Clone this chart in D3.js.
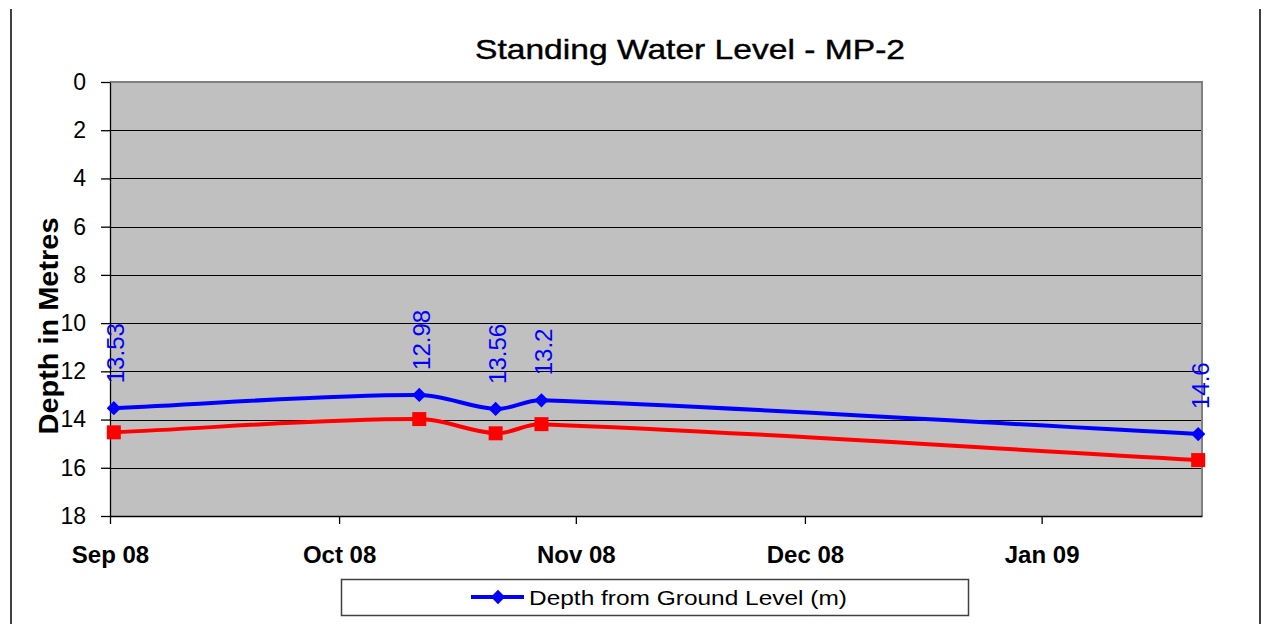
<!DOCTYPE html>
<html>
<head>
<meta charset="utf-8">
<script src="https://cdn.jsdelivr.net/npm/d3@7"></script>
<style>
    body { margin: 0; background: #fff; }
    svg { display: block; font-family: "Liberation Sans", Arial, sans-serif; }
</style>
</head>
<body>
<script>
const chartTitle = "Standing Water Level - MP-2";
const yLabel = "Depth in Metres";
const seriesName = "Depth from Ground Level (m)";
const sampleDates = ["2008-09-01", "2008-10-11", "2008-10-21", "2008-10-27", "2009-01-21"];
const depthFromGround = [13.53, 12.98, 13.56, 13.2, 14.6];
const secondDepth = [14.53, 13.98, 14.57, 14.19, 15.68];
const monthTicks = ["2008-09-01", "2008-10-01", "2008-11-01", "2008-12-01", "2009-01-01"];
const xDomain = ["2008-09-01", "2009-01-22"];
const yTicks = [0, 2, 4, 6, 8, 10, 12, 14, 16, 18];

const margin = { top: 82, right: 67, bottom: 108, left: 110 };
const width = 1269 - margin.left - margin.right;
const height = 624 - margin.top - margin.bottom;

// spreadsheet-style smoothing: bezier handles scaled by neighbouring segment lengths
function smoothPath(pts) {
    const p = d3.path();
    const dist = (a, b) => Math.hypot(b[0] - a[0], b[1] - a[1]);
    p.moveTo(pts[0][0], pts[0][1]);
    for (let i = 0; i < pts.length - 1; i++) {
        const p0 = pts[i - 1] || pts[i], p1 = pts[i], p2 = pts[i + 1], p3 = pts[i + 2] || pts[i + 1];
        const d01 = dist(p0, p1), d12 = dist(p1, p2), d23 = dist(p2, p3);
        const f1 = d12 / (d01 + d12) / 3;
        const f2 = d12 / (d12 + d23) / 3;
        p.bezierCurveTo(
            p1[0] + (p2[0] - p0[0]) * f1, p1[1] + (p2[1] - p0[1]) * f1,
            p2[0] - (p3[0] - p1[0]) * f2, p2[1] - (p3[1] - p1[1]) * f2,
            p2[0], p2[1]);
    }
    return p.toString();
}

function waterLevelChart() {
    const parse = d3.timeParse("%Y-%m-%d");
    // points sit in the middle of their day slot
    const dates = sampleDates.map(s => d3.timeHour.offset(parse(s), 12));
    const blue = dates.map((d, i) => ({ date: d, value: depthFromGround[i] }));
    const red = dates.map((d, i) => ({ date: d, value: secondDepth[i] }));

    const root = d3.select("body").append("svg")
        .attr("width", 1269)
        .attr("height", 624);

    // outer frame (sides only visible)
    root.append("line").attr("x1", 11).attr("x2", 11).attr("y1", 9).attr("y2", 624)
        .attr("stroke", "#000").attr("stroke-width", 1.5);
    root.append("line").attr("x1", 1260).attr("x2", 1260).attr("y1", 9).attr("y2", 624)
        .attr("stroke", "#000").attr("stroke-width", 1.5);

    root.append("text")
        .attr("x", 690)
        .attr("y", 59)
        .attr("text-anchor", "middle")
        .attr("textLength", 430)
        .attr("lengthAdjust", "spacingAndGlyphs")
        .style("font-size", "28px")
        .style("stroke", "#000")
        .style("stroke-width", 0.4)
        .text(chartTitle);

    root.append("text")
        .attr("transform", "translate(58,326) rotate(-90)")
        .attr("text-anchor", "middle")
        .attr("textLength", 217)
        .attr("lengthAdjust", "spacingAndGlyphs")
        .style("font-size", "27px")
        .style("font-weight", "bold")
        .text(yLabel);

    const svg = root.append("g")
        .attr("transform", "translate(" + margin.left + "," + margin.top + ")");

    const xScale = d3.scaleTime()
        .domain(xDomain.map(parse))
        .range([0, width]);
    const yScale = d3.scaleLinear()
        .domain([0, 18])
        .range([0, height]);

    svg.append("rect")
        .attr("width", width)
        .attr("height", height)
        .attr("fill", "#c0c0c0");

    svg.append("g")
        .selectAll("line")
        .data(yTicks)
        .enter().append("line")
        .attr("x1", 0)
        .attr("x2", width)
        .attr("y1", d => Math.round(yScale(d)) + 0.5)
        .attr("y2", d => Math.round(yScale(d)) + 0.5)
        .attr("stroke", "#000")
        .attr("stroke-width", 1);

    // plot area border, top and right
    svg.append("path")
        .attr("d", "M0,0H" + width + "V" + height)
        .attr("fill", "none")
        .attr("stroke", "#808080")
        .attr("stroke-width", 2);

    const yAxis = d3.axisLeft(yScale)
        .tickValues(yTicks)
        .tickSize(9)
        .tickSizeOuter(0)
        .tickPadding(15);
    svg.append("g")
        .attr("id", "y-axis")
        .call(yAxis)
        .call(g => g.selectAll("text")
            .style("font-size", "23px")
            .attr("fill", "#000")
            .attr("font-family", null))
        .call(g => g.selectAll("line, path").attr("stroke", "#000").attr("stroke-width", 1.3));

    const xAxis = d3.axisBottom(xScale)
        .tickValues(monthTicks.map(parse))
        .tickFormat(d3.timeFormat("%b %y"))
        .tickSize(8)
        .tickSizeOuter(0)
        .tickPadding(22);
    svg.append("g")
        .attr("id", "x-axis")
        .attr("transform", "translate(0," + height + ")")
        .call(xAxis)
        .call(g => g.selectAll("text")
            .style("font-size", "24px")
            .style("font-weight", "bold")
            .attr("fill", "#000")
            .attr("font-family", null))
        .call(g => g.selectAll("line, path").attr("stroke", "#000").attr("stroke-width", 1.3));

    const toPts = series => series.map(d => [xScale(d.date), yScale(d.value)]);

    svg.append("path")
        .attr("d", smoothPath(toPts(red)))
        .attr("fill", "none")
        .attr("stroke", "#ff0000")
        .attr("stroke-width", 4);

    svg.append("path")
        .attr("d", smoothPath(toPts(blue)))
        .attr("fill", "none")
        .attr("stroke", "#0000ff")
        .attr("stroke-width", 4);

    svg.selectAll(".sq")
        .data(red)
        .enter().append("rect")
        .attr("class", "sq")
        .attr("x", d => xScale(d.date) - 7)
        .attr("y", d => yScale(d.value) - 7)
        .attr("width", 14)
        .attr("height", 14)
        .attr("fill", "#ff0000");

    const diamond = d3.symbol().type(d3.symbolDiamond2).size(130);
    svg.selectAll(".dm")
        .data(blue)
        .enter().append("path")
        .attr("class", "dm")
        .attr("d", diamond)
        .attr("transform", d => "translate(" + xScale(d.date) + "," + yScale(d.value) + ")")
        .attr("fill", "#0000ff");

    svg.selectAll(".lbl")
        .data(blue)
        .enter().append("text")
        .attr("class", "lbl")
        .attr("transform", d => "translate(" + (xScale(d.date) + 2) + "," + (yScale(d.value) - 25) + ") rotate(-90)")
        .attr("dy", "0.35em")
        .attr("fill", "#0000ff")
        .style("font-size", "24px")
        .text(d => d.value);

    // legend
    const legend = root.append("g").attr("id", "legend");
    legend.append("rect")
        .attr("x", 341.5)
        .attr("y", 579.5)
        .attr("width", 627)
        .attr("height", 36)
        .attr("fill", "#fff")
        .attr("stroke", "#404040")
        .attr("stroke-width", 1.5);
    legend.append("line")
        .attr("x1", 471)
        .attr("x2", 524)
        .attr("y1", 597)
        .attr("y2", 597)
        .attr("stroke", "#0000ff")
        .attr("stroke-width", 4);
    legend.append("path")
        .attr("d", diamond)
        .attr("transform", "translate(498,597)")
        .attr("fill", "#0000ff");
    legend.append("text")
        .attr("x", 529)
        .attr("y", 605)
        .attr("textLength", 318)
        .attr("lengthAdjust", "spacingAndGlyphs")
        .style("font-size", "21px")
        .text(seriesName);
}

document.addEventListener("DOMContentLoaded", () => waterLevelChart());
</script>
</body>
</html>
